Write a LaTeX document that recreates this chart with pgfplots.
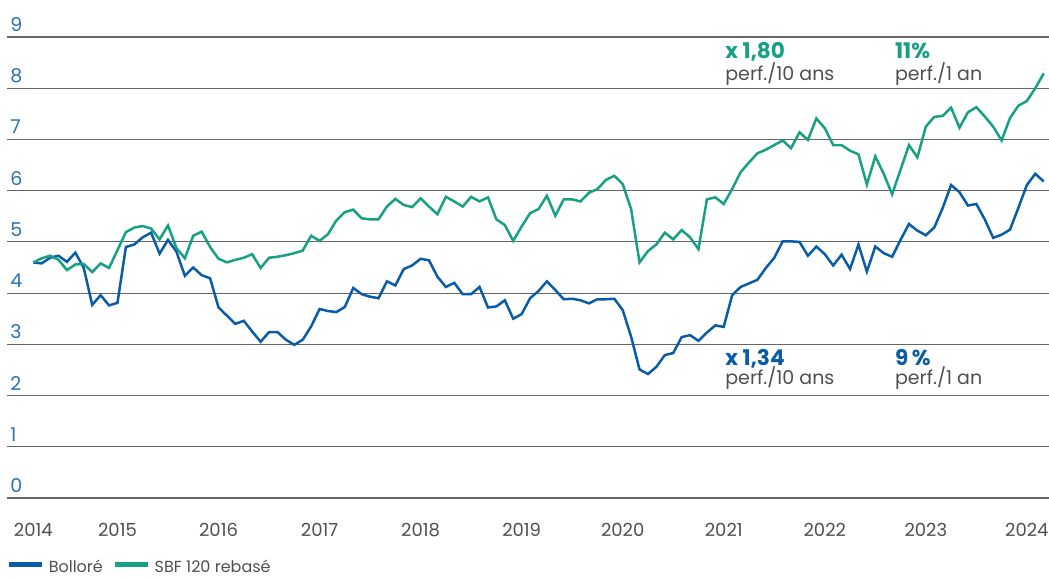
\documentclass[border=0pt]{standalone}
\usepackage{pgfplots}
\pgfplotsset{compat=1.18}
\usepackage{pgfplotstable}
\usepackage{fontspec}
\setmainfont{Poppins}

\definecolor{bblue}{HTML}{0B5CA6}
\definecolor{sgreen}{HTML}{17A084}
\definecolor{ylab}{HTML}{2A70B5}
\definecolor{txt}{HTML}{4F4F4F}
\definecolor{gridc}{HTML}{666666}

% monthly values, jan 2014 (m=0) to jan 2024 (m=120)
\pgfplotstableread{
m b s
0 4.60 4.60
1 4.58 4.68
2 4.69 4.73
3 4.73 4.65
4 4.61 4.45
5 4.79 4.56
6 4.49 4.57
7 3.77 4.41
8 3.96 4.58
9 3.76 4.49
10 3.81 4.84
11 4.90 5.19
12 4.95 5.28
13 5.09 5.31
14 5.18 5.26
15 4.77 5.05
16 5.04 5.32
17 4.81 4.88
18 4.34 4.68
19 4.50 5.12
20 4.35 5.20
21 4.29 4.90
22 3.72 4.67
23 3.56 4.60
24 3.40 4.65
25 3.46 4.69
26 3.25 4.76
27 3.05 4.49
28 3.24 4.69
29 3.24 4.71
30 3.09 4.74
31 2.99 4.78
32 3.09 4.83
33 3.35 5.12
34 3.69 5.02
35 3.65 5.15
36 3.63 5.42
37 3.73 5.58
38 4.10 5.63
39 3.98 5.46
40 3.93 5.44
41 3.90 5.44
42 4.23 5.69
43 4.15 5.84
44 4.47 5.72
45 4.54 5.68
46 4.67 5.85
47 4.64 5.69
48 4.32 5.54
49 4.12 5.88
50 4.20 5.79
51 3.98 5.69
52 3.98 5.88
53 4.12 5.79
54 3.72 5.87
55 3.74 5.44
56 3.86 5.33
57 3.50 5.02
58 3.59 5.30
59 3.90 5.56
60 4.04 5.64
61 4.23 5.90
62 4.06 5.51
63 3.88 5.83
64 3.89 5.83
65 3.86 5.79
66 3.80 5.96
67 3.88 6.03
68 3.88 6.21
69 3.89 6.29
70 3.67 6.13
71 3.15 5.64
72 2.51 4.60
73 2.42 4.82
74 2.56 4.95
75 2.79 5.18
76 2.83 5.05
77 3.14 5.23
78 3.18 5.09
79 3.07 4.86
80 3.23 5.83
81 3.37 5.87
82 3.34 5.74
83 3.96 6.03
84 4.12 6.36
85 4.19 6.55
86 4.26 6.73
87 4.49 6.80
88 4.69 6.89
89 5.01 6.98
90 5.01 6.83
91 5.00 7.14
92 4.73 6.99
93 4.91 7.41
94 4.76 7.22
95 4.54 6.89
96 4.75 6.89
97 4.47 6.78
98 4.95 6.71
99 4.42 6.12
100 4.91 6.67
101 4.78 6.33
102 4.71 5.93
103 5.04 6.41
104 5.35 6.89
105 5.22 6.65
106 5.13 7.25
107 5.28 7.44
108 5.66 7.46
109 6.11 7.62
110 5.97 7.23
111 5.71 7.53
112 5.74 7.63
113 5.44 7.45
114 5.08 7.25
115 5.14 6.98
116 5.24 7.42
117 5.67 7.66
118 6.11 7.75
119 6.33 8.00
120 6.18 8.29
}\perf

\begin{document}
\begin{tikzpicture}
\useasboundingbox (-3.5pt,-40.5pt) rectangle (521pt,249pt);
\begin{axis}[
	scale only axis,
	width=521pt,
	height=230.5pt,
	xmin=-3.12, xmax=120.63,
	ymin=0, ymax=9,
	clip=false,
	axis line style={draw=none},
	major tick length=0pt,
	ytick={0,1,...,9},
	xtick={0,10,22,34,46,58,70,82,94,106,118},
	xticklabels={2014,2015,2016,2017,2018,2019,2020,2021,2022,2023,2024},
	ymajorgrids,
	grid style={gridc, line width=0.6pt},
	/pgf/number format/assume math mode=true,
	yticklabel style={anchor=base west, inner sep=0pt, xshift=1.5pt, yshift=2.75pt,
		text=ylab, font=\fontsize{9.5}{11}\selectfont},
	xticklabel style={anchor=base, inner sep=0pt, yshift=-19.3pt,
		text=txt, font=\fontsize{9}{11}\selectfont},
	legend columns=2,
	legend style={at={(axis description cs:0,-0.1757)}, anchor=south west,
		draw=none, fill=none, inner sep=0pt, outer sep=0pt,
		text=txt, font=\fontsize{8}{9}\selectfont,
		/tikz/every even column/.append style={column sep=3pt}},
	legend image code/.code={\draw[line width=2.4pt] (0pt,1.2pt) -- (16.5pt,1.2pt);},
]
\addplot [bblue, line width=1.25pt, mark=none] table [x=m, y=b] {\perf};
\addlegendentry{Bolloré}
\addplot [sgreen, line width=1.25pt, mark=none] table [x=m, y=s] {\perf};
\addlegendentry{SBF 120 rebasé}

% encadres de performance
\node [anchor=base west, inner sep=0pt, text=sgreen, font=\bfseries\fontsize{10.8}{12}\selectfont] at (axis cs:82.15,8.59) {x 1,80};
\node [anchor=base west, inner sep=0pt, text=txt, font=\fontsize{9.5}{11}\selectfont] at (axis cs:82.15,8.15) {perf./10 ans};
\node [anchor=base west, inner sep=0pt, text=sgreen, font=\bfseries\fontsize{10.8}{12}\selectfont] at (axis cs:102.3,8.59) {11\%};
\node [anchor=base west, inner sep=0pt, text=txt, font=\fontsize{9.5}{11}\selectfont] at (axis cs:102.3,8.15) {perf./1 an};
\node [anchor=base west, inner sep=0pt, text=bblue, font=\bfseries\fontsize{10.8}{12}\selectfont] at (axis cs:82.15,2.58) {x 1,34};
\node [anchor=base west, inner sep=0pt, text=txt, font=\fontsize{9.5}{11}\selectfont] at (axis cs:82.15,2.21) {perf./10 ans};
\node [anchor=base west, inner sep=0pt, text=bblue, font=\bfseries\fontsize{10.8}{12}\selectfont] at (axis cs:102.3,2.58) {9\,\%};
\node [anchor=base west, inner sep=0pt, text=txt, font=\fontsize{9.5}{11}\selectfont] at (axis cs:102.3,2.21) {perf./1 an};
\end{axis}
\end{tikzpicture}
\end{document}
